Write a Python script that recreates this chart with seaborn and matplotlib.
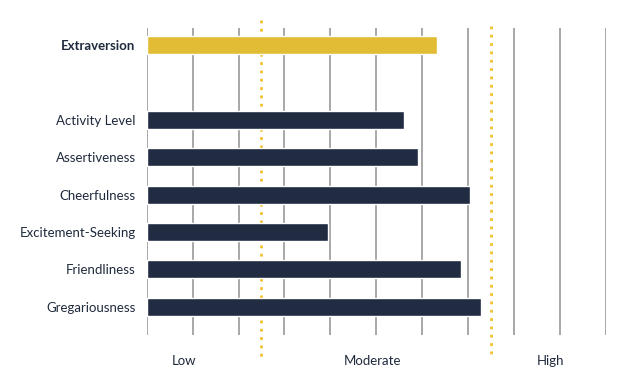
import pandas as pd
import numpy as np
import matplotlib
matplotlib.use("Agg")
import matplotlib.pyplot as plt
import matplotlib.transforms as mtransforms
import seaborn as sns

# data
traits = ["Extraversion", "Activity Level", "Assertiveness", "Cheerfulness",
          "Excitement-Seeking", "Friendliness", "Gregariousness"]
scores = [63.2, 56.1, 59.1, 70.4, 39.5, 68.5, 72.8]
groups = ["domain", "facet", "facet", "facet", "facet", "facet", "facet"]
band_names = ["Low", "Moderate", "High"]
band_label_x = [8.2, 49.3, 88.0]
band_cuts = [25, 75]

sns.set_theme(style="white")
plt.rcParams["font.family"] = ["Lato", "DejaVu Sans"]

navy = "#212B42"
gold = "#E3BC35"
text_col = "#1F2A3C"

df = pd.DataFrame({"trait": traits, "score": scores, "group": groups})
order = [traits[0], " "] + traits[1:]

fig = plt.figure(figsize=(6.33, 3.81), dpi=100)
ax = fig.add_axes([146.7 / 633, 46 / 381, 459 / 633, 307 / 381])

sns.barplot(data=df, x="score", y="trait", order=order, hue="group",
            palette={"domain": gold, "facet": navy}, width=0.48,
            dodge=False, legend=False, saturation=1, ax=ax, zorder=5)

ax.set_xlim(0, 100)
ax.set_ylim(7.75, -0.45)
ax.set_xticks(np.arange(0, 101, 10))
ax.xaxis.grid(True, color="#A0A0A0", linewidth=1.3)
ax.set_axisbelow(True)
ax.set_xticklabels([])
ax.set_xlabel("")
ax.set_ylabel("")
for s in ax.spines.values():
    s.set_visible(False)
ax.tick_params(axis="both", length=0)
ax.tick_params(axis="y", pad=8, labelsize=9.5, labelcolor=text_col)
for lab in ax.get_yticklabels():
    if lab.get_text() == traits[0]:
        lab.set_fontweight("bold")

trans = mtransforms.blended_transform_factory(ax.transData, ax.transAxes)
for cut, top in zip(band_cuts, [1.026, 1.0065]):
    ax.plot([cut, cut], [top, -0.0717], transform=trans, clip_on=False,
            color="#F2C12E", linestyle=(0, (1, 2)), linewidth=2, zorder=2)

for name, xp in zip(band_names, band_label_x):
    ax.text(xp, -0.085, name, transform=trans, ha="center", va="center",
            fontsize=9.5, color=text_col)

fig.savefig("out.png", dpi=100)
